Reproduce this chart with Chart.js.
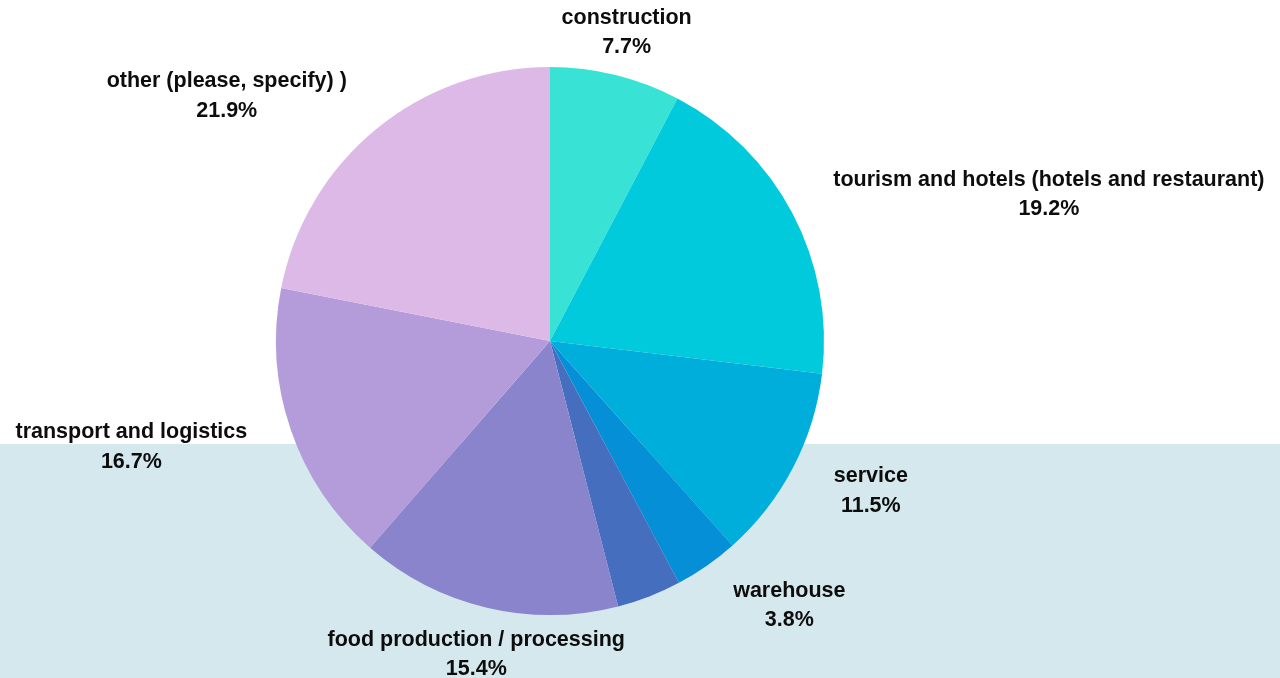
<!DOCTYPE html>
<html>
<head>
<meta charset="utf-8">
<script src="https://cdn.jsdelivr.net/npm/chart.js@4.4.1/dist/chart.umd.min.js"></script>
<style>
    html, body { margin: 0; padding: 0; background: #ffffff; }
    #wrap { width: 1280px; height: 678px; position: relative; }
</style>
</head>
<body>
<div id="wrap"><canvas id="sectorPie" width="1280" height="678"></canvas></div>
<script>
// Sector breakdown (percent of respondents)
const sectors = [
    'construction',
    'tourism and hotels (hotels and restaurant)',
    'service',
    'warehouse',
    '',
    'food production / processing',
    'transport and logistics',
    'other (please, specify) )'
];
const shares = [7.7, 19.2, 11.5, 3.8, 3.8, 15.4, 16.7, 21.9];
const sliceColors = ['#38e3d5', '#00cadc', '#00aedc', '#048fd6', '#466ebf', '#8984cc', '#b49cda', '#dcb9e7'];

// light band behind the lower part of the chart
const bandPlugin = {
    id: 'band',
    beforeDraw(chart) {
        const ctx = chart.ctx;
        ctx.save();
        ctx.fillStyle = '#d4e8ed';
        ctx.fillRect(0, 444, chart.width, chart.height - 444);
        ctx.restore();
    }
};

// two-line labels (name + percent) outside each slice
const outerLabels = {
    id: 'outerLabels',
    afterDatasetsDraw(chart) {
        const ctx = chart.ctx;
        const meta = chart.getDatasetMeta(0);
        ctx.save();
        ctx.font = 'bold 21.5px "Liberation Sans"';
        ctx.fillStyle = '#0d0d0d';
        ctx.textBaseline = 'middle';
        meta.data.forEach((arc, i) => {
            if (!sectors[i]) return;
            const p = arc.getProps(['x', 'y', 'startAngle', 'endAngle', 'outerRadius'], true);
            const mid = (p.startAngle + p.endAngle) / 2;
            const r = p.outerRadius + 46;
            const ax = p.x + Math.cos(mid) * r;
            const ay = p.y + Math.sin(mid) * r;
            const lines = [sectors[i], shares[i].toFixed(1) + '%'];
            const w = Math.max(...lines.map(l => ctx.measureText(l).width));
            let cx = ax;
            const c = Math.cos(mid);
            if (c > 0.35) cx = ax + w / 2;
            else if (c < -0.35) cx = ax - w / 2;
            ctx.textAlign = 'center';
            ctx.fillText(lines[0], cx, ay - 12.5);
            ctx.fillText(lines[1], cx, ay + 17);
        });
        ctx.restore();
    }
};

new Chart(document.getElementById('sectorPie'), {
    type: 'pie',
    data: {
        labels: sectors,
        datasets: [{
            data: shares,
            backgroundColor: sliceColors,
            borderWidth: 0
        }]
    },
    options: {
        responsive: false,
        animation: false,
        layout: { padding: { left: 276, right: 456, top: 67, bottom: 63 } },
        plugins: {
            legend: { display: false },
            tooltip: { enabled: false }
        }
    },
    plugins: [bandPlugin, outerLabels]
});
</script>
</body>
</html>
